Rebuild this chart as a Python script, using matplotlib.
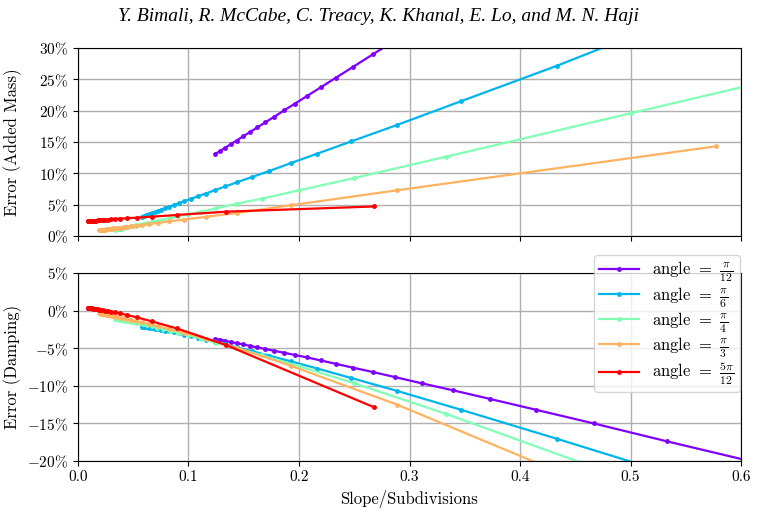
import numpy as np
import matplotlib
matplotlib.use("Agg")
import matplotlib.pyplot as plt
from matplotlib.ticker import FuncFormatter, MultipleLocator

plt.rcParams['font.family'] = 'serif'
plt.rcParams['font.serif'] = ['cmr10']
plt.rcParams['mathtext.fontset'] = 'cm'
plt.rcParams['axes.formatter.use_mathtext'] = True
plt.rcParams['axes.unicode_minus'] = True

nan = np.nan

labels = [r'angle $=$ $\frac{\pi}{12}$', r'angle $=$ $\frac{\pi}{6}$', r'angle $=$ $\frac{\pi}{4}$',
          r'angle $=$ $\frac{\pi}{3}$', r'angle $=$ $\frac{5\pi}{12}$']

x_pi12 = [0.1244, 0.1287, 0.1333, 0.1382, 0.1435, 0.1493, 0.1555, 0.1623, 0.1696, 0.1777, 0.1866,
          0.1964, 0.2073, 0.2195, 0.2333, 0.2488, 0.2666, 0.2871, 0.3110, 0.3393, 0.3732, 0.4147,
          0.4665, 0.5332, 0.6220]
am_pi12 = [13.10, 13.58, 14.09, 14.64, 15.23, 15.88, 16.57, 17.33, 18.14, 19.04, 20.04, 21.13, 22.34,
           23.70, 25.24, 26.97, 28.96, 31.24, nan, nan, nan, nan, nan, nan, nan]
dp_pi12 = [-3.75, -3.88, -4.02, -4.17, -4.33, -4.50, -4.69, -4.89, -5.11, -5.35, -5.61, -5.90, -6.23,
           -6.62, -7.08, -7.59, -8.16, -8.85, -9.67, -10.6, -11.76, -13.2, -15.0, -17.4, -20.5]

x_pi6 = [0.0577, 0.0597, 0.0619, 0.0642, 0.0666, 0.0693, 0.0722, 0.0753, 0.0787, 0.0825, 0.0866,
         0.0912, 0.0962, 0.1019, 0.1083, 0.1155, 0.1237, 0.1332, 0.1443, 0.1575, 0.1732, 0.1925,
         0.2165, 0.2474, 0.2887, 0.3464, 0.4330, 0.5774]
am_pi6 = [3.10, 3.23, 3.37, 3.51, 3.66, 3.84, 4.02, 4.22, 4.43, 4.67, 4.93, 5.23, 5.54, 5.91, 6.31,
          6.77, 7.29, 7.90, 8.60, 9.41, 10.37, 11.62, 13.13, 15.10, 17.71, 21.49, 27.13, 37.2]
dp_pi6 = [-2.14, -2.19, -2.24, -2.30, -2.36, -2.43, -2.50, -2.58, -2.67, -2.77, -2.88, -3.02, -3.19,
          -3.37, -3.59, -3.85, -4.15, -4.50, -4.90, -5.40, -6.00, -6.74, -7.70, -8.97, -10.68,
          -13.18, -17.03, -23.6]

x_pi4 = [0.0333, 0.0345, 0.0357, 0.0370, 0.0385, 0.0400, 0.0417, 0.0435, 0.0455, 0.0476, 0.0500,
         0.0526, 0.0556, 0.0588, 0.0625, 0.0667, 0.0714, 0.0769, 0.0833, 0.0909, 0.1000, 0.1111,
         0.1250, 0.1429, 0.1667, 0.2000, 0.2500, 0.3333, 0.5000, 1.0000]
am_pi4 = [1.00, 1.04, 1.09, 1.14, 1.19, 1.25, 1.31, 1.38, 1.45, 1.53, 1.62, 1.71, 1.82, 1.94, 2.08,
          2.24, 2.41, 2.62, 2.86, 3.14, 3.48, 3.90, 4.42, 5.12, 5.98, 7.29, 9.25, 12.66, 19.58, 40.3]
dp_pi4 = [-1.10, -1.13, -1.16, -1.19, -1.23, -1.27, -1.32, -1.37, -1.42, -1.48, -1.54, -1.61, -1.69,
          -1.80, -1.93, -2.08, -2.25, -2.45, -2.68, -2.96, -3.30, -3.72, -4.25, -4.97, -5.95, -7.40,
          -9.67, -13.75, -22.6, nan]

x_pi3 = [0.0192, 0.0199, 0.0206, 0.0214, 0.0222, 0.0231, 0.0241, 0.0251, 0.0262, 0.0275, 0.0289,
         0.0304, 0.0321, 0.0340, 0.0361, 0.0385, 0.0412, 0.0444, 0.0481, 0.0525, 0.0577, 0.0642,
         0.0722, 0.0825, 0.0962, 0.1155, 0.1443, 0.1925, 0.2887, 0.5774]
am_pi3 = [0.91, 0.93, 0.94, 0.96, 0.98, 1.00, 1.02, 1.04, 1.07, 1.10, 1.13, 1.16, 1.20, 1.24, 1.29,
          1.34, 1.40, 1.47, 1.55, 1.65, 1.77, 1.91, 2.09, 2.32, 2.62, 3.05, 3.69, 4.90, 7.29, 14.31]
dp_pi3 = [-0.36, -0.38, -0.40, -0.42, -0.45, -0.48, -0.51, -0.54, -0.57, -0.61, -0.65, -0.70, -0.75,
          -0.81, -0.88, -0.95, -1.04, -1.14, -1.26, -1.40, -1.57, -1.78, -2.08, -2.45, -2.95, -3.75,
          -4.98, -7.33, -12.5, -30.2]

x_5pi12 = [0.0089, 0.0092, 0.0096, 0.0099, 0.0103, 0.0107, 0.0112, 0.0117, 0.0122, 0.0128, 0.0134,
           0.0141, 0.0149, 0.0158, 0.0167, 0.0179, 0.0191, 0.0206, 0.0223, 0.0244, 0.0268, 0.0298,
           0.0335, 0.0383, 0.0447, 0.0536, 0.0670, 0.0893, 0.1340, 0.2680]
am_5pi12 = [2.35, 2.35, 2.36, 2.36, 2.37, 2.38, 2.38, 2.39, 2.40, 2.41, 2.42, 2.43, 2.44, 2.45, 2.46,
            2.48, 2.50, 2.52, 2.54, 2.57, 2.61, 2.65, 2.71, 2.77, 2.83, 2.93, 3.08, 3.35, 3.88, 4.71]
dp_5pi12 = [0.40, 0.39, 0.38, 0.37, 0.36, 0.35, 0.34, 0.33, 0.31, 0.30, 0.28, 0.26, 0.24, 0.22, 0.19,
            0.16, 0.13, 0.09, 0.04, -0.01, -0.07, -0.14, -0.22, -0.38, -0.60, -0.91, -1.44, -2.36,
            -4.58, -12.86]

series_x = [x_pi12, x_pi6, x_pi4, x_pi3, x_5pi12]
series_am = [am_pi12, am_pi6, am_pi4, am_pi3, am_5pi12]
series_dp = [dp_pi12, dp_pi6, dp_pi4, dp_pi3, dp_5pi12]

cmap = plt.get_cmap('rainbow')
colors = [cmap(v) for v in np.linspace(0, 1, 5)]

fig = plt.figure(figsize=(7.57, 5.13), dpi=100)
ax1 = fig.add_axes([0.103, 0.540, 0.876, 0.3665])
ax2 = fig.add_axes([0.103, 0.1014, 0.876, 0.3664], sharex=ax1)

for xs, am, dp, c, lab in zip(series_x, series_am, series_dp, colors, labels):
    ax1.plot(xs, np.array(am, dtype=float), color=c, lw=1.6, marker='.', ms=5, label=lab)
    ax2.plot(xs, np.array(dp, dtype=float), color=c, lw=1.6, marker='.', ms=5, label=lab)

pct = FuncFormatter(lambda v, p: r'$%d\%%$' % round(v))
for ax in (ax1, ax2):
    ax.grid(True, color='#b0b0b0', lw=1.0)
    ax.set_axisbelow(True)
    ax.yaxis.set_major_locator(MultipleLocator(5))
    ax.yaxis.set_major_formatter(pct)
    ax.tick_params(labelsize=11)

ax1.set_xlim(0, 0.6)
ax1.set_ylim(0, 30)
ax2.set_ylim(-20, 5)
ax1.xaxis.set_major_locator(MultipleLocator(0.1))
ax2.xaxis.set_major_formatter(FuncFormatter(lambda v, p: '%.1f' % v))
plt.setp(ax1.get_xticklabels(), visible=False)

ax1.set_ylabel('Error (Added Mass)', fontsize=12)
ax2.set_ylabel('Error (Damping)', fontsize=12)
ax2.set_xlabel('Slope/Subdivisions', fontsize=12)
ax1.yaxis.set_label_coords(-0.085, 0.5)
ax2.yaxis.set_label_coords(-0.085, 0.5)

ax2.legend(loc='upper right', bbox_to_anchor=(0.998, 1.096), borderaxespad=0.0, fontsize=12,
           framealpha=0.8, handlelength=2.4, labelspacing=0.03, borderpad=0.3, handletextpad=0.8)

fig.text(0.5, 0.967, 'Y. Bimali, R. McCabe, C. Treacy, K. Khanal, E. Lo, and M. N. Haji',
         ha='center', va='center', fontsize=14, style='italic', family='Liberation Serif')

fig.savefig('out.png', dpi=100)
